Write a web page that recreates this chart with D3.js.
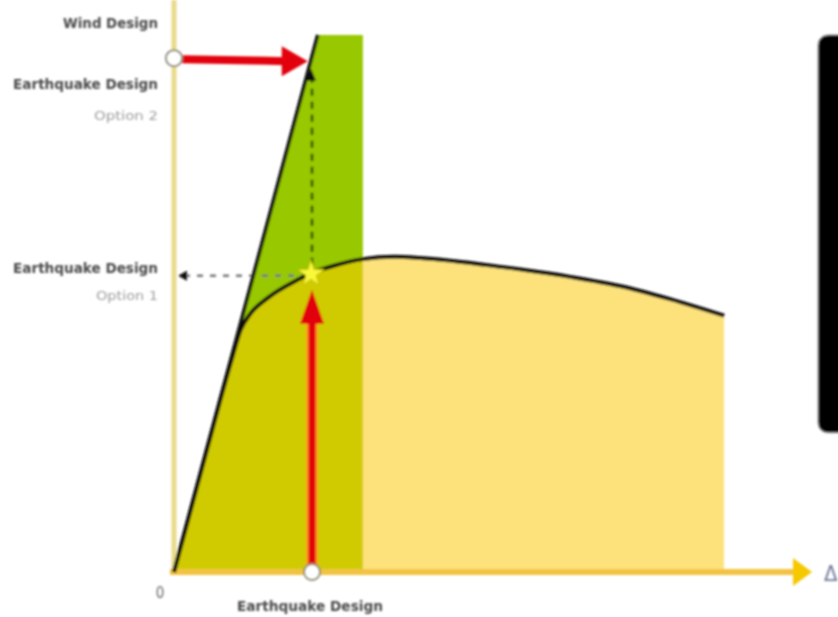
<!DOCTYPE html>
<html>
<head>
<meta charset="utf-8">
<script src="https://cdn.jsdelivr.net/npm/d3@7"></script>
<style>
  html, body { margin: 0; padding: 0; background: #ffffff; }
  svg { display: block; }
</style>
</head>
<body>
<script>
// ---------- data ----------
const curveDisp  = [0, 3, 6, 9, 10.5, 11.9, 14.6, 19.3, 21.7, 25.0, 29.7, 34.7, 38.7, 51.7, 62.3, 70.1, 78.0, 86.5];
const curveForce = [0, 12.4, 24.8, 36.9, 42.4, 45.0, 47.8, 51.0, 52.3, 53.5, 54.7, 55.1, 54.9, 53.3, 51.6, 50.0, 47.7, 44.8];
const elasticDisp  = [0, 22.6];
const elasticForce = [0, 93.9];
const zoneBounds = [0, 29.7, 86.5];      // displacement limits of the shaded zones
const greenTop = 93.9;                     // force at the top of the green zone
const windForce = 90;                      // Wind Design
const eqDisp = 21.7;                       // Earthquake Design displacement
const eqForce1 = 52.3;                     // Earthquake Design Option 1
const eqForce2 = 88;                       // Earthquake Design Option 2
const labelsLeft = ["Wind Design", "Earthquake Design", "Option 2", "Earthquake Design", "Option 1"];
const labelBottom = "Earthquake Design";
const originLabel = "0";
const xAxisLabel = "Δ";

// ---------- setup ----------
const W = 838, H = 617;
const svg = d3.select("body").append("svg").attr("width", W).attr("height", H);
const defs = svg.append("defs");
defs.append("filter").attr("id", "soft")
  .append("feGaussianBlur").attr("stdDeviation", 0.8);

const x = d3.scaleLinear().domain([0, 100]).range([174, 810]);
const y = d3.scaleLinear().domain([0, 100]).range([572, 0]);

const g = svg.append("g").attr("filter", "url(#soft)");

const curvePts = curveDisp.map((d, i) => [d, curveForce[i]]);
const elasticPts = elasticDisp.map((d, i) => [d, elasticForce[i]]);

// clip paths for zones
defs.append("clipPath").attr("id", "zoneA").append("rect")
  .attr("x", x(zoneBounds[0]) - 5).attr("y", 0)
  .attr("width", x(zoneBounds[1]) - x(zoneBounds[0]) + 5).attr("height", H);
defs.append("clipPath").attr("id", "zoneB").append("rect")
  .attr("x", x(zoneBounds[1])).attr("y", 0)
  .attr("width", x(zoneBounds[2]) - x(zoneBounds[1])).attr("height", H);

const line = d3.line().x(d => x(d[0])).y(d => y(d[1]));

// green zone (between elastic line and zone limit)
g.append("path")
  .attr("d", line([[0, 0], [elasticDisp[1], greenTop], [zoneBounds[1], greenTop], [zoneBounds[1], 0]]) + "Z")
  .attr("fill", "#97c800");

// areas under the capacity curve
const area = d3.area().x(d => x(d[0])).y0(y(0)).y1(d => y(d[1])).curve(d3.curveMonotoneX);
g.append("path").attr("d", area(curvePts)).attr("fill", "#d0cb00").attr("clip-path", "url(#zoneA)");
g.append("path").attr("d", area(curvePts)).attr("fill", "#fde27c").attr("clip-path", "url(#zoneB)");

// black rounded box at right
g.append("rect").attr("x", 818).attr("y", y(greenTop)).attr("width", 60)
  .attr("height", y(eqForce1) + 160 - y(greenTop)).attr("rx", 10)
  .attr("fill", "#050505").attr("stroke", "#aaaaaa").attr("stroke-width", 1);

// axes
g.append("line").attr("x1", x(0)).attr("x2", x(0)).attr("y1", 0).attr("y2", y(0))
  .attr("stroke", "#e9da8a").attr("stroke-width", 5);
g.append("line").attr("x1", x(0) - 4).attr("x2", 796).attr("y1", y(0)).attr("y2", y(0))
  .attr("stroke", "#f2c33f").attr("stroke-width", 6);
g.append("path")
  .attr("d", `M793,${y(0) - 14}L812,${y(0)}L793,${y(0) + 14}Z`)
  .attr("fill", "#f5c800");

// dashed guide lines
g.append("line")
  .attr("x1", x(0) + 10).attr("x2", x(eqDisp) - 6)
  .attr("y1", y(eqForce1) + 3).attr("y2", y(eqForce1) + 3)
  .attr("stroke", "#777").attr("stroke-width", 2.5).attr("stroke-dasharray", "6,7");
g.append("path")
  .attr("d", `M${x(0) + 4},${y(eqForce1) + 3}l9,-5l0,10Z`).attr("fill", "#111");
g.append("line")
  .attr("x1", x(eqDisp)).attr("x2", x(eqDisp))
  .attr("y1", y(eqForce1) - 8).attr("y2", y(eqForce2) + 10)
  .attr("stroke", "#2a4a00").attr("stroke-width", 2.5).attr("stroke-dasharray", "7,6");
g.append("path")
  .attr("d", `M${x(eqDisp) - 1},${y(eqForce2)}l-5,12l10,0Z`).attr("fill", "#111");

// elastic line and capacity curve
g.append("path").attr("d", line(elasticPts)).attr("fill", "none")
  .attr("stroke", "#0a0a0a").attr("stroke-width", 3.6);
g.append("path").attr("d", d3.line().x(d => x(d[0])).y(d => y(d[1])).curve(d3.curveMonotoneX)(curvePts))
  .attr("fill", "none").attr("stroke", "#0a0a0a").attr("stroke-width", 4);

// red arrows
const red = "#e3000f";
const hTip = x(elasticDisp[1] * windForce / elasticForce[1]) - 4;
g.append("line").attr("x1", x(0) + 8).attr("x2", hTip - 20)
  .attr("y1", y(windForce) + 2).attr("y2", y(windForce) + 4)
  .attr("stroke", red).attr("stroke-width", 8);
g.append("path")
  .attr("d", `M${hTip},${y(windForce) + 4}L${hTip - 26},${y(windForce) - 11}L${hTip - 26},${y(windForce) + 19}Z`)
  .attr("fill", red);

const vTip = y(eqForce1) + 17;
g.append("line").attr("x1", x(eqDisp)).attr("x2", x(eqDisp))
  .attr("y1", y(0) - 6).attr("y2", vTip + 26)
  .attr("stroke", "#ff9a1a").attr("stroke-width", 12);
g.append("line").attr("x1", x(eqDisp)).attr("x2", x(eqDisp))
  .attr("y1", y(0) - 6).attr("y2", vTip + 20)
  .attr("stroke", red).attr("stroke-width", 7);
g.append("path")
  .attr("d", `M${x(eqDisp)},${vTip}L${x(eqDisp) - 12},${vTip + 34}L${x(eqDisp) + 12},${vTip + 34}Z`)
  .attr("fill", red);

// star at design point
g.append("path")
  .attr("d", d3.symbol(d3.symbolStar).size(220)())
  .attr("transform", `translate(${x(eqDisp) - 1},${y(eqForce1) + 1})`)
  .attr("fill", "#f8f83a").attr("stroke", "#c8c000").attr("stroke-width", 1);

// white circles
g.append("circle").attr("cx", x(0)).attr("cy", y(windForce) + 1).attr("r", 8)
  .attr("fill", "#fff").attr("stroke", "#8c8a78").attr("stroke-width", 2);
g.append("circle").attr("cx", x(eqDisp)).attr("cy", y(0)).attr("r", 8)
  .attr("fill", "#fff").attr("stroke", "#8c8a6a").attr("stroke-width", 2);

// labels
const font = "'DejaVu Sans Condensed', 'Liberation Sans Narrow', sans-serif";
function label(txt, xx, yy, len, opts) {
  g.append("text").attr("x", xx).attr("y", yy)
    .attr("text-anchor", opts.anchor || "end")
    .attr("font-family", font).attr("font-size", opts.size || 14)
    .attr("font-weight", opts.weight || "bold")
    .attr("fill", opts.color || "#484848")
    .attr("textLength", len).attr("lengthAdjust", "spacingAndGlyphs")
    .text(txt);
}
const lx = x(0) - 16;
label(labelsLeft[0], lx, y(windForce) - 29, 95, {});
label(labelsLeft[1], lx, y(eqForce2) + 20, 145, {});
label(labelsLeft[2], lx, y(eqForce2) + 51, 64, {weight: "normal", color: "#9c9c9c", size: 13});
label(labelsLeft[3], lx, y(eqForce1) + 0, 145, {});
label(labelsLeft[4], lx, y(eqForce1) + 27, 62, {weight: "normal", color: "#9c9c9c", size: 13});
label(labelBottom, x(eqDisp) - 2, y(0) + 39, 146, {anchor: "middle"});
g.append("text").attr("x", x(0) - 14).attr("y", y(0) + 26).attr("text-anchor", "middle")
  .attr("font-family", font).attr("font-size", 15).attr("fill", "#666").text(originLabel);
g.append("text").attr("x", 824).attr("y", y(0) + 9).attr("text-anchor", "start")
  .attr("font-family", font).attr("font-size", 22).attr("fill", "#707898").text(xAxisLabel);
</script>
</body>
</html>
